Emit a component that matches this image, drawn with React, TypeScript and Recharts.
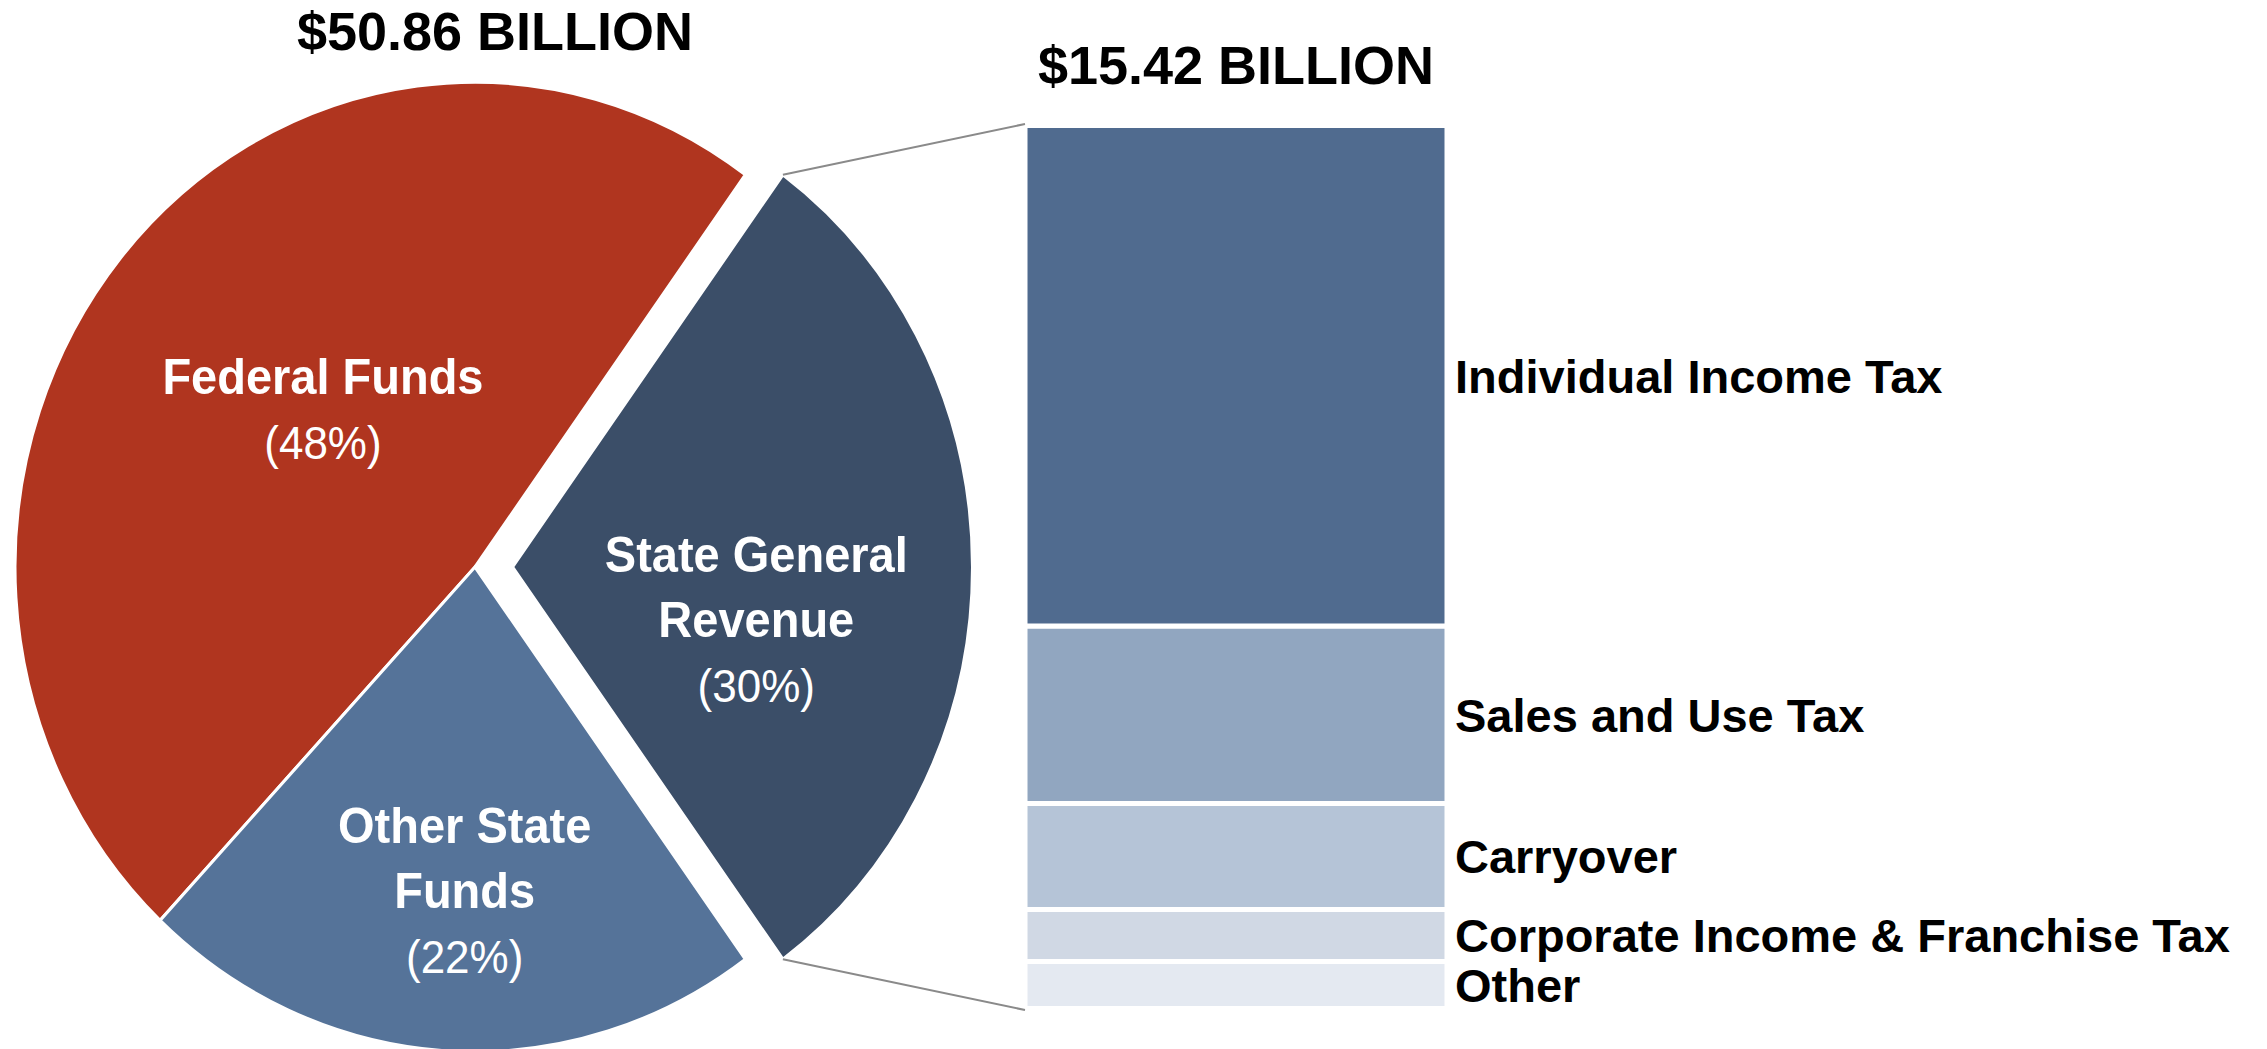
import React from 'react';
import { PieChart, Pie, Cell, BarChart, Bar, XAxis, YAxis, LabelList, ReferenceArea } from 'recharts';

// All state funds, $50.86B
const fundNames = ['Federal Funds', 'Other State Funds', 'State General Revenue'];
const fundShares = [48, 22, 30];
const fundColors = ['#B0351F', '#557399', '#3B4E68'];
const fundLabelLines = [['Federal Funds'], ['Other State', 'Funds'], ['State General', 'Revenue']];

// State general revenue breakdown, $15.42B (billions)
const revenueNames = ['Individual Income Tax', 'Sales and Use Tax', 'Carryover', 'Corporate Income & Franchise Tax', 'Other'];
const revenueValues = [8.74, 3.1, 1.85, 0.91, 0.82];
const revenueColors = ['#506B8F', '#91A6C0', '#B5C4D7', '#D0D8E4', '#E4E9F1'];

const pieTitle = '$50.86 BILLION';
const barTitle = '$15.42 BILLION';

const W = 2267;
const H = 1049;
const FONT = '"Liberation Sans", Arial, sans-serif';

// pie layout
const CX = 475;
const CY = 567;
const R = 460;
const EXPLODE = 37.5;
const STRETCH = 1.054; // the source picture is slightly taller than wide
const LINE_GAP = 62;
// [radius fraction, dx, dy] for each slice label
const labelPlace = [[0.429, 0, -24], [0.669, 9, 0], [0.53, 0, 50]];

// bar layout
const BAR_LEFT = 1025;
const BAR_RIGHT = 1447;
const BAR_TOP = 125.5;
const BAR_BOTTOM = 1008.5;

const pieData = fundNames.map((name, i) => ({ name, value: fundShares[i] }));
const sgrIndex = 2;
const halfAngle = (fundShares[sgrIndex] / 100) * 180;
const startAngle = halfAngle;
const endAngle = halfAngle + 360;

const barKeys = revenueNames.map((_, i) => `s${i}`);
const barRow: Record<string, any> = { name: 'State General Revenue' };
revenueValues.forEach((v, i) => { barRow[barKeys[i]] = v; });
const barData = [barRow];
const total = revenueValues.reduce((a, b) => a + b, 0);

const renderPieLabel = (show: (i: number) => boolean) => (props: any) => {
  const { cx, cy, midAngle, outerRadius, index } = props;
  if (!show(index)) return null;
  const [f, dx, dy] = labelPlace[index];
  const rad = (midAngle * Math.PI) / 180;
  const x = cx + outerRadius * f * Math.cos(rad) + dx;
  const yc = cy - outerRadius * f * Math.sin(rad) + dy;
  const lines = fundLabelLines[index];
  const n = lines.length + 1;
  const cap = 33;
  const first = yc - ((n - 1) * LINE_GAP - cap) / 2;
  return (
    <g>
      {lines.map((t, k) => (
        <text key={k} x={x} y={first + k * LINE_GAP} textAnchor="middle" fill="#fff"
          fontFamily={FONT} fontWeight={700} fontSize={47}>{t}</text>
      ))}
      <text x={x} y={first + lines.length * LINE_GAP} textAnchor="middle" fill="#fff"
        fontFamily={FONT} fontWeight={400} fontSize={44}>{`(${fundShares[index]}%)`}</text>
    </g>
  );
};

const segmentLabel = (name: string) => (props: any) => {
  const { x, y, width, height } = props;
  return (
    <text x={Number(x) + Number(width) + 8} y={Number(y) + Number(height) / 2} dy="0.36em"
      fill="#000" fontFamily={FONT} fontWeight={700} fontSize={47}>{name}</text>
  );
};

export default function App() {
  const rad = (halfAngle * Math.PI) / 180;
  const cornerX = CX + EXPLODE + R * Math.cos(rad);
  const cornerTopY = CY - R * Math.sin(rad) * STRETCH;
  const cornerBotY = CY + R * Math.sin(rad) * STRETCH;

  // stacked from the bottom: Other first, Individual Income Tax on top
  const order = revenueNames.map((_, i) => i).reverse();

  return (
    <div style={{ position: 'absolute', left: 0, top: 0, width: W, height: H, background: '#fff', overflow: 'hidden' }}>
      <div style={{ position: 'absolute', left: 0, top: 0 }}>
        <BarChart width={W} height={H} data={barData} barCategoryGap={0}
          margin={{ top: BAR_TOP, bottom: H - BAR_BOTTOM, left: BAR_LEFT, right: W - BAR_RIGHT }}>
          <XAxis dataKey="name" type="category" hide />
          <YAxis type="number" hide domain={[0, total]} />
          {order.map((i) => (
            <Bar key={barKeys[i]} dataKey={barKeys[i]} stackId="rev" fill={revenueColors[i]}
              stroke="#fff" strokeWidth={5} isAnimationActive={false}>
              <LabelList dataKey={barKeys[i]} content={segmentLabel(revenueNames[i])} />
            </Bar>
          ))}
          <ReferenceArea y1={0} y2={total} fill="none" stroke="#d4d4d4" strokeWidth={1.5} ifOverflow="visible" />
        </BarChart>
      </div>

      <div style={{ position: 'absolute', left: 0, top: 0, transform: `scaleY(${STRETCH})`, transformOrigin: `${CX}px ${CY}px` }}>
        <PieChart width={1020} height={H} margin={{ top: 0, right: 0, bottom: 0, left: 0 }}>
          <Pie data={pieData} dataKey="value" nameKey="name" cx={CX} cy={CY} outerRadius={R}
            startAngle={startAngle} endAngle={endAngle} stroke="#fff" strokeWidth={3}
            labelLine={false} label={renderPieLabel((i) => i !== sgrIndex)} isAnimationActive={false}>
            {pieData.map((d, i) => (
              <Cell key={d.name} fill={i === sgrIndex ? 'none' : fundColors[i]} stroke={i === sgrIndex ? 'none' : '#fff'} />
            ))}
          </Pie>
          <Pie data={pieData} dataKey="value" nameKey="name" cx={CX + EXPLODE} cy={CY} outerRadius={R}
            startAngle={startAngle} endAngle={endAngle} stroke="#fff" strokeWidth={3}
            labelLine={false} label={renderPieLabel((i) => i === sgrIndex)} isAnimationActive={false}>
            {pieData.map((d, i) => (
              <Cell key={d.name} fill={i === sgrIndex ? fundColors[i] : 'none'} stroke={i === sgrIndex ? '#fff' : 'none'} />
            ))}
          </Pie>
        </PieChart>
      </div>

      <svg width={W} height={H} style={{ position: 'absolute', left: 0, top: 0, pointerEvents: 'none' }}>
        <line x1={cornerX} y1={cornerTopY} x2={BAR_LEFT} y2={BAR_TOP - 1.5} stroke="#8a8a8a" strokeWidth={2} />
        <line x1={cornerX} y1={cornerBotY} x2={BAR_LEFT} y2={BAR_BOTTOM + 1.5} stroke="#8a8a8a" strokeWidth={2} />
        <text x={495} y={50} textAnchor="middle" fontFamily={FONT} fontWeight={700} fontSize={54} fill="#000">{pieTitle}</text>
        <text x={(BAR_LEFT + BAR_RIGHT) / 2} y={84} textAnchor="middle" fontFamily={FONT} fontWeight={700} fontSize={54} fill="#000">{barTitle}</text>
      </svg>
    </div>
  );
}
